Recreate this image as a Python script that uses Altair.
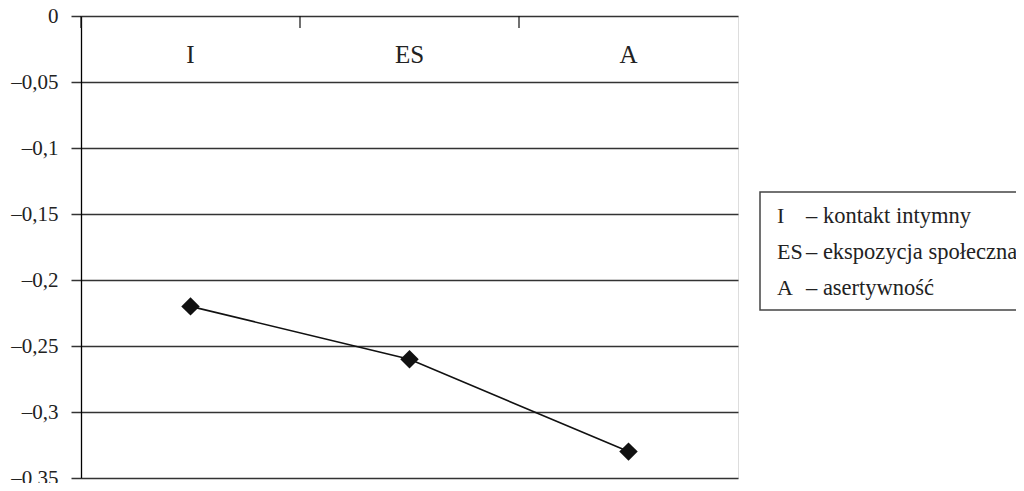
import altair as alt
import pandas as pd

categories = ["I", "ES", "A"]
values = [-0.22, -0.26, -0.33]
y_ticks = [0, -0.05, -0.1, -0.15, -0.2, -0.25, -0.3, -0.35]
legend_codes = ["I", "ES", "A"]
legend_texts = ["– kontakt intymny", "– ekspozycja społeczna", "– asertywność"]

df = pd.DataFrame({"cat": categories, "val": values})
leg = pd.DataFrame({"code": legend_codes, "desc": legend_texts})

W, H = 657, 462
FONT = "Liberation Serif"

xscale = alt.Scale(type="band", domain=categories, paddingInner=0, paddingOuter=0)
x_enc = alt.X("cat:N", sort=categories, scale=xscale, axis=None)

y_enc = alt.Y(
    "val:Q",
    scale=alt.Scale(domain=[-0.35, 0], nice=False, zero=False),
    axis=alt.Axis(
        values=y_ticks, title=None, grid=True, gridColor="#333", gridWidth=1.6,
        domainColor="#000", domainWidth=1.3, tickColor="#333", tickSize=10, tickWidth=1.5,
        labelFont=FONT, labelFontSize=21, labelColor="#222", labelPadding=13,
        labelExpr="replace(replace(replace(format(datum.value, '.2~f'), '\u2212', '\u2013'), '-', '\u2013'), '.', ',')",
    ),
)

base = alt.Chart(df)

line = base.mark_line(color="#111", strokeWidth=1.6).encode(x=x_enc, y=y_enc)
pts = base.mark_point(shape="diamond", filled=True, color="#111", size=340, opacity=1).encode(x=x_enc, y=y_enc)

ticks = base.mark_rule(color="#111", strokeWidth=1.2).encode(
    x=alt.X("cat:N", sort=categories, scale=xscale, axis=None, bandPosition=0),
    y=alt.value(0), y2=alt.value(12),
)

cat_labels = base.mark_text(font=FONT, fontSize=25, color="#222", baseline="middle").encode(
    x=x_enc, y=alt.value(39), text="cat:N"
)

box = alt.Chart(pd.DataFrame({"a": [0]})).mark_rect(
    fill="white", stroke="#444", strokeWidth=1.5
).encode(x=alt.value(679), x2=alt.value(941), y=alt.value(176), y2=alt.value(294))

leg_y = alt.Y("code:N", sort=legend_codes, axis=None,
              scale=alt.Scale(type="point", range=[200, 272], padding=0))
leg_code = alt.Chart(leg).mark_text(font=FONT, fontSize=22, color="#222", align="left", baseline="middle").encode(
    x=alt.value(696), y=leg_y, text="code:N"
)
leg_desc = alt.Chart(leg).mark_text(font=FONT, fontSize=22.5, color="#222", align="left", baseline="middle").encode(
    x=alt.value(725), y=leg_y, text="desc:N"
)

main = alt.layer(ticks, line, pts, cat_labels)
legend = alt.layer(box, leg_code, leg_desc)

chart = alt.layer(main, legend).resolve_scale(y="independent").properties(
    width=W, height=H,
    autosize=alt.AutoSizeParams(type="none"),
    padding={"left": 73, "top": 8, "right": 278, "bottom": 5},
).configure_view(stroke="#111", strokeWidth=1.3).configure(background="white")

chart.save("out.html", embed_options={"renderer": "svg", "actions": False})
